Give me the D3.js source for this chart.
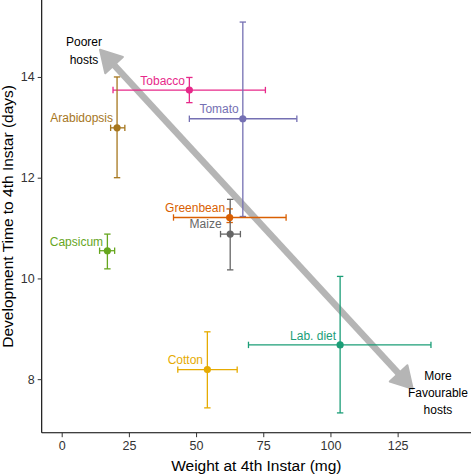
<!DOCTYPE html>
<html><head><meta charset="utf-8">
<script src="https://cdn.jsdelivr.net/npm/d3@7"></script>
<style>body{margin:0;background:#fff}svg{display:block}text{font-family:"Liberation Sans",Arial,Helvetica,sans-serif}</style>
</head><body><svg id="c" width="471" height="474"></svg>
<script>
// ---- data ----
const hosts    = ["Tobacco","Tomato","Arabidopsis","Greenbean","Maize","Capsicum","Cotton","Lab. diet"];
const weight   = [47.5, 67.4, 20.6, 62.5, 62.7, 17.0, 54.2, 103.6];
const weightLo = [19.1, 47.5, 18.2, 41.6, 59.1, 14.1, 43.2, 69.5];
const weightHi = [75.8, 87.5, 23.5, 83.5, 66.5, 19.7, 65.3, 137.4];
const devTime  = [13.74, 13.17, 12.99, 11.21, 10.88, 10.55, 8.19, 8.68];
const devLo    = [13.49, 11.23, 12.00, 11.11, 10.17, 10.19, 7.43, 7.33];
const devHi    = [13.99, 15.09, 14.00, 11.38, 11.57, 10.88, 8.94, 10.04];
const colors   = ["#e7298a","#7570b3","#a6761d","#d95f02","#666666","#66a61e","#e6ab02","#1b9e77"];
// label anchor (right end, vertical centre) in data units
const labelX   = [45.9, 65.9, 19.1, 60.8, 59.5, 15.4, 52.6, 102.1];
const labelY   = [13.92, 13.37, 13.19, 11.40, 11.08, 10.73, 8.38, 8.87];
const xTicks   = [0, 25, 50, 75, 100, 125];
const yTicks   = [8, 10, 12, 14];
// annotation arrow (tips, data units) and texts
const arrowFrom = [14.25, 14.54];
const arrowTo   = [130.6, 7.81];
const noteTopLines = ["Poorer", "hosts"];
const noteTopPos   = [8.3, 14.62];
const noteBotLines = ["More", "Favourable", "hosts"];
const noteBotPos   = [140.0, 7.99];

// ---- layout ----
const W = 471, H = 474;
const L = 41.7, R = 471, T = 0, B = 432.7;
const x = d3.scaleLinear().domain([-7.44, 152.3]).range([L, R]);
const y = d3.scaleLinear().domain([6.937, 15.528]).range([B, T]);
const svg = d3.select("#c");

// ---- arrow ----
const arrowCol = "#b5b5b5";
const p0 = [x(arrowFrom[0]), y(arrowFrom[1])];
const p1 = [x(arrowTo[0]), y(arrowTo[1])];
const dx = p1[0]-p0[0], dy = p1[1]-p0[1], len = Math.hypot(dx, dy);
const ux = dx/len, uy = dy/len;
const side = 24, hh = side*Math.cos(Math.PI/6), hw = side/2;
const a = svg.append("g");
a.append("line")
  .attr("x1", p0[0]+ux*hh*0.9).attr("y1", p0[1]+uy*hh*0.9)
  .attr("x2", p1[0]-ux*hh*0.9).attr("y2", p1[1]-uy*hh*0.9)
  .attr("stroke", arrowCol).attr("stroke-width", 6.5);
function head(tip, dirx, diry){
  const bx = tip[0]+dirx*hh, by = tip[1]+diry*hh;
  const px = -diry, py = dirx;
  return [[tip[0],tip[1]],[bx+px*hw,by+py*hw],[bx-px*hw,by-py*hw]];
}
[head(p0, ux, uy), head(p1, -ux, -uy)].forEach(pts=>{
  a.append("path").attr("d", d3.line()(pts)+"Z")
   .attr("fill", arrowCol).attr("stroke", arrowCol)
   .attr("stroke-width", 2).attr("stroke-linejoin", "round");
});

// ---- axes ----
const tickCol = "#333";
const gx = svg.append("g").attr("transform", `translate(0,${B})`)
  .call(d3.axisBottom(x).tickValues(xTicks).tickSize(4.5).tickPadding(3.5).tickSizeOuter(0));
const gy = svg.append("g").attr("transform", `translate(${L},0)`)
  .call(d3.axisLeft(y).tickValues(yTicks).tickSize(4).tickPadding(3).tickSizeOuter(0));
[gx, gy].forEach(g=>{
  g.select(".domain").attr("stroke", "#000").attr("stroke-width", 1.1);
  g.selectAll(".tick line").attr("stroke", tickCol).attr("stroke-width", 1);
  g.selectAll(".tick text").attr("fill", "#333").style("font-size", "12.5px")
   .style("font-family", '"Liberation Sans",Arial,sans-serif');
});
gx.select(".domain").attr("d", `M${L},0H${R}`);
gy.select(".domain").attr("d", `M0,${T}V${B}`);

svg.append("text").attr("x", (L+R)/2).attr("y", 470.5).attr("text-anchor", "middle")
  .style("font-size", "15.5px").attr("fill", "#000").text("Weight at 4th Instar (mg)");
svg.append("text").attr("transform", `translate(13,${(T+B)/2}) rotate(-90)`).attr("text-anchor", "middle")
  .style("font-size", "15.5px").attr("fill", "#000").text("Development Time to 4th Instar (days)");

// ---- error bars and points ----
const data = hosts.map((h,i)=>({h, i}));
const g = svg.append("g");
const cap = 3.2, ew = 1.3;
data.forEach(({i})=>{
  const c = colors[i];
  const e = g.append("g").attr("stroke", c).attr("stroke-width", ew).attr("fill", "none");
  // vertical
  e.append("line").attr("x1", x(weight[i])).attr("x2", x(weight[i])).attr("y1", y(devLo[i])).attr("y2", y(devHi[i]));
  [devLo[i], devHi[i]].forEach(v=>e.append("line").attr("x1", x(weight[i])-cap).attr("x2", x(weight[i])+cap).attr("y1", y(v)).attr("y2", y(v)));
  // horizontal
  e.append("line").attr("y1", y(devTime[i])).attr("y2", y(devTime[i])).attr("x1", x(weightLo[i])).attr("x2", x(weightHi[i]));
  [weightLo[i], weightHi[i]].forEach(v=>e.append("line").attr("y1", y(devTime[i])-cap).attr("y2", y(devTime[i])+cap).attr("x1", x(v)).attr("x2", x(v)));
});
g.selectAll("circle").data(data).join("circle")
  .attr("cx", d=>x(weight[d.i])).attr("cy", d=>y(devTime[d.i])).attr("r", 3.6)
  .attr("fill", d=>colors[d.i]);
g.selectAll("text.lab").data(data).join("text").attr("class", "lab")
  .attr("x", d=>x(labelX[d.i])).attr("y", d=>y(labelY[d.i])).attr("dy", "0.35em")
  .attr("text-anchor", "end").style("font-size", "12px").attr("fill", d=>colors[d.i]).text(d=>d.h);

// ---- notes ----
noteTopLines.forEach((t,k)=>svg.append("text").attr("x", x(noteTopPos[0])).attr("y", y(noteTopPos[1])+k*18.4)
  .attr("text-anchor", "middle").style("font-size", "12px").attr("fill", "#000").text(t));
noteBotLines.forEach((t,k)=>svg.append("text").attr("x", x(noteBotPos[0])).attr("y", y(noteBotPos[1])+k*17.3)
  .attr("text-anchor", "middle").style("font-size", "12px").attr("fill", "#000").text(t));
</script></body></html>
